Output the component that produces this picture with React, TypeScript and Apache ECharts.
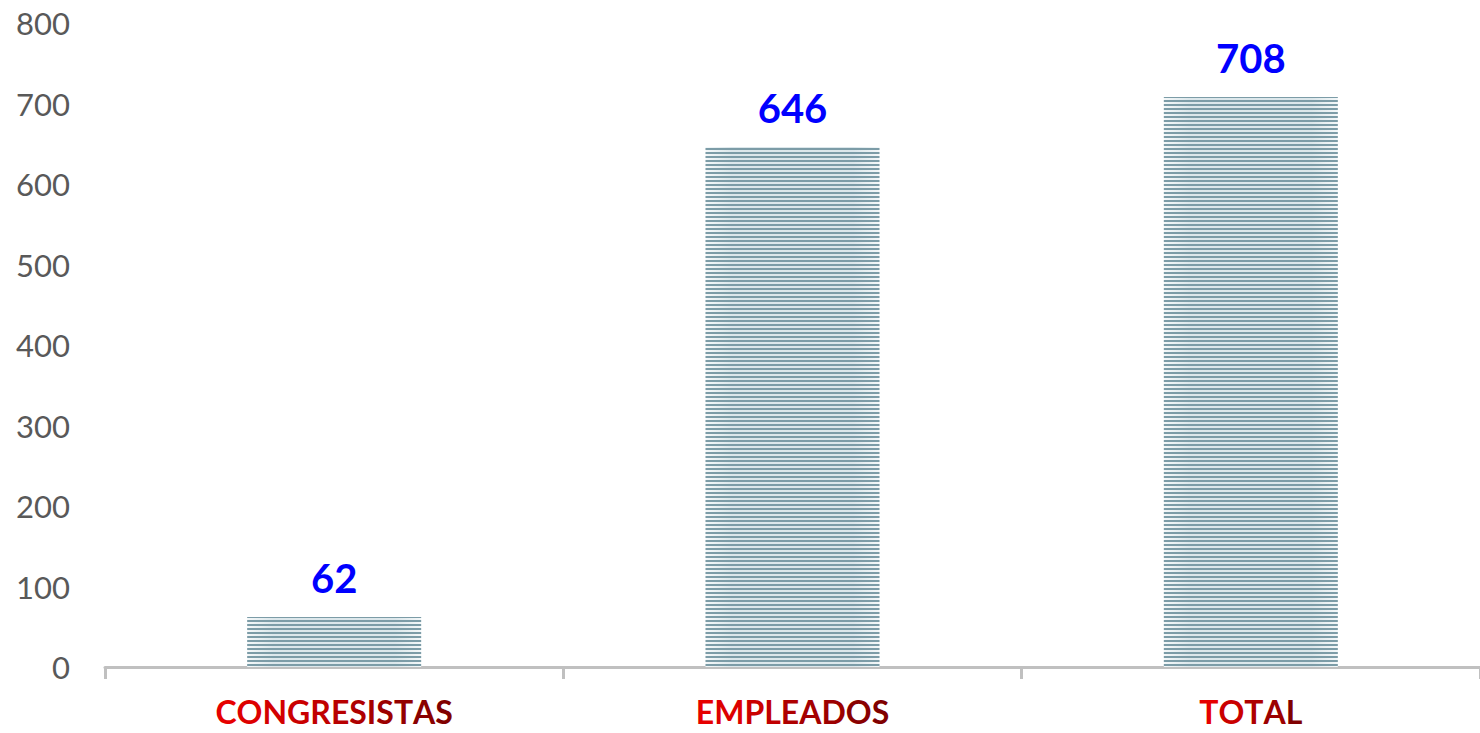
import React, { useEffect, useRef } from "react";
import * as echarts from "echarts";

const categories = ["CONGRESISTAS", "EMPLEADOS", "TOTAL"];
const values = [62, 646, 708];
const yMin = 0;
const yMax = 800;
const yInterval = 100;

const labelStart = [230, 0, 0];
const labelEnd = [128, 0, 0];
const STEPS = 12;

function mix(t: number) {
  const c = labelStart.map((s, i) => Math.round(s + (labelEnd[i] - s) * t));
  return `rgb(${c[0]},${c[1]},${c[2]})`;
}

export default function App() {
  const ref = useRef<HTMLDivElement>(null);
  useEffect(() => {
    document.body.style.margin = "0";
    const chart = echarts.init(ref.current!, null, { renderer: "svg" });
    const rich: Record<string, any> = {};
    for (let i = 0; i < STEPS; i++) {
      rich["c" + i] = {
        fontFamily: "Lato",
        fontWeight: "bold",
        fontSize: 32,
        color: mix(i / (STEPS - 1)),
      };
    }
    chart.setOption({
      animation: false,
      grid: { left: 105, right: 0, top: 23, bottom: 66, containLabel: false },
      xAxis: {
        type: "category",
        data: categories,
        axisLine: { lineStyle: { color: "#c0c0c0", width: 3 } },
        axisTick: { show: true, length: 12, lineStyle: { color: "#c0c0c0", width: 3 } },
        axisLabel: {
          interval: 0,
          hideOverlap: false,
          margin: 28,
          fontFamily: "Lato",
          fontWeight: "bold",
          fontSize: 32,
          color: "#b00000",
          rich,
          formatter: (v: string) => {
            const n = v.length;
            return v
              .split("")
              .map((ch, i) => {
                const k = Math.round((n > 1 ? i / (n - 1) : 0) * (STEPS - 1));
                return `{c${k}|${ch}}`;
              })
              .join("");
          },
        },
      },
      yAxis: {
        type: "value",
        min: yMin,
        max: yMax,
        interval: yInterval,
        axisLine: { show: false },
        axisTick: { show: false },
        splitLine: { show: false },
        axisLabel: {
          margin: 35,
          fontFamily: "Lato",
          fontSize: 31,
          color: "#595959",
        },
      },
      series: [
        {
          type: "bar",
          data: values,
          barWidth: 174,
          itemStyle: {
            color: new echarts.graphic.LinearGradient(0, 0, 1, 0, [
              { offset: 0, color: "#f4f8f9" },
              { offset: 0.15, color: "#dce7eb" },
              { offset: 0.85, color: "#dce7eb" },
              { offset: 1, color: "#f4f8f9" },
            ]),
            decal: {
              symbol: "rect",
              symbolSize: 1,
              dashArrayX: [1, 0],
              dashArrayY: [2, 2],
              color: "#7c9ca7",
              rotation: 0,
            },
          },
          label: {
            show: true,
            position: "top",
            distance: 19,
            fontFamily: "Lato",
            fontWeight: "bold",
            fontSize: 40,
            color: "#0000ff",
          },
        },
      ],
    });
    return () => chart.dispose();
  }, []);
  return <div ref={ref} style={{ width: 1480, height: 733 }} />;
}
